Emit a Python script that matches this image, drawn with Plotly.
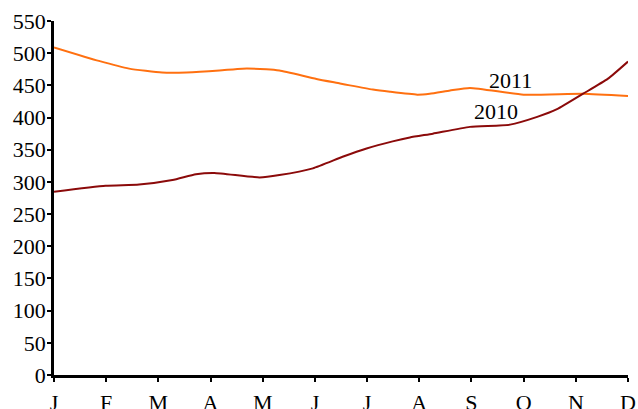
import plotly.graph_objects as go

months = ["J", "F", "M", "A", "M", "J", "J", "A", "S", "O", "N", "D"]

x_2010 = [0, 0.99, 1.63, 2.27, 2.72, 3.07, 3.94, 4.32, 4.96, 5.53, 5.99,
          6.49, 6.82, 7.26, 7.97, 8.74, 9.26, 9.64, 10.14, 10.61, 11]
y_2010 = [284.7, 294, 296, 303, 312, 314, 307, 310.6, 321, 339, 352,
          363, 369, 375, 385.5, 389, 401, 413, 437, 460, 487]

x_2011 = [0, 0.86, 1.44, 2.07, 2.54, 3.17, 3.61, 4.07, 4.32, 5.03, 5.48, 5.67,
          6.11, 6.44, 6.96, 7.2, 7.59, 7.97, 9, 10.14, 11]
y_2011 = [509, 488, 476, 470, 470, 473, 476, 475, 473, 460, 453, 450,
          443.5, 440, 435.6, 437, 442, 446, 435.6, 437, 433.5]

labels = [("2011", 8.74, 458), ("2010", 8.47, 409)]

font = dict(family="Liberation Serif", size=22, color="black")

fig = go.Figure()
fig.add_trace(go.Scatter(x=x_2011, y=y_2011, mode="lines", name="2011",
                         line=dict(color="#ff7010", width=2, shape="spline", smoothing=0.5)))
fig.add_trace(go.Scatter(x=x_2010, y=y_2010, mode="lines", name="2010",
                         line=dict(color="#8b0a0a", width=2, shape="spline", smoothing=0.5)))

for text, xx, yy in labels:
    fig.add_annotation(x=xx, y=yy, text=text, showarrow=False, font=font)

fig.update_layout(
    width=638, height=409,
    margin=dict(l=54, r=10, t=21, b=34),
    paper_bgcolor="white", plot_bgcolor="white",
    showlegend=False,
    font=font,
)
fig.update_xaxes(range=[0, 11], tickvals=list(range(12)), ticktext=months,
                 showgrid=False, zeroline=False, showline=True, linecolor="black",
                 linewidth=2.5, ticks="outside", ticklen=4, tickwidth=1.5, tickcolor="black",
                 tickfont=font, automargin=False, ticklabelstandoff=2)
fig.update_yaxes(range=[0, 550], tickvals=list(range(0, 551, 50)),
                 showgrid=False, zeroline=False, showline=True, linecolor="black",
                 linewidth=2.5, ticks="outside", ticklen=4, tickwidth=1.5, tickcolor="black",
                 tickfont=font, automargin=False, ticklabelstandoff=-3)

fig.write_html("out.html", config={"displayModeBar": False},
               post_script="document.body.style.margin='0';document.body.style.overflow='hidden';")
